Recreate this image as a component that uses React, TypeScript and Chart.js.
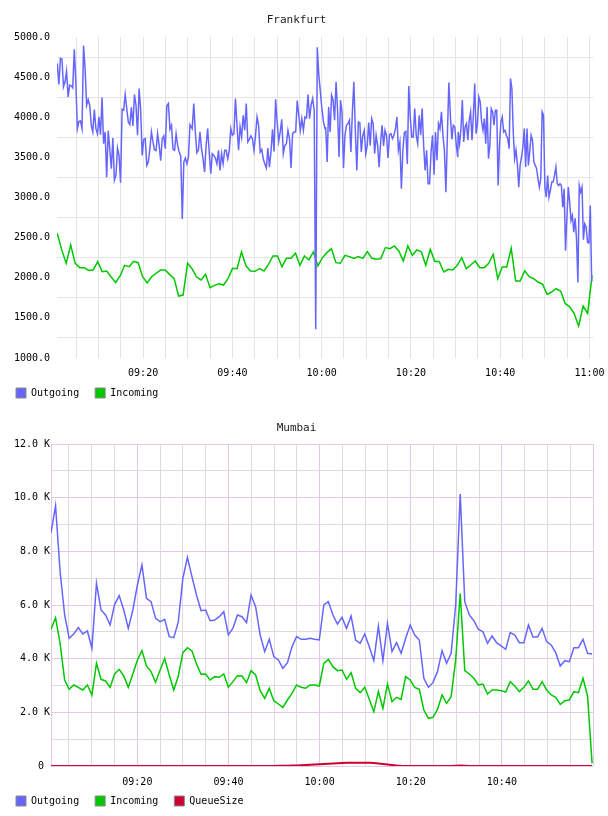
import React, { useEffect, useRef } from 'react';
import { Chart, registerables } from 'chart.js';
Chart.register(...registerables);

const FONT = "'DejaVu Sans Mono', monospace";

// ---------- Frankfurt (minutes after 09:00) ----------
// Outgoing is sampled densely; read in four consecutive stretches.
const frankfurtOutgoingA = [
  4671, 4408, 4733, 4725, 4379, 4442, 4575, 4254, 4400, 4392,
  4367, 4846, 4442, 3858, 3950, 3954, 3858, 4892, 4608, 4150,
  4221, 4150, 3900, 3817, 4096, 3858, 3796, 4004, 3783, 4246,
  3671, 3817, 3254, 3833, 3608, 3358, 3742, 3213, 3275, 3617,
  3525, 3183, 4100, 4088, 4283, 4108, 3942, 3908, 4125, 3892,
  4283, 4150, 3775, 4358, 4108, 3525, 3725, 3733, 3400, 3442,
  3608, 3817, 3692, 3592, 3583, 3796, 3650, 3458, 3733, 3767,
  3608, 4142, 4171, 3850, 3900, 3600, 3588, 3792, 3650, 3567,
  3517, 2733, 3442, 3492, 3421, 3504, 3908,
];
const frankfurtOutgoingB = [
  3858, 4171, 3817, 3558, 3588, 3817, 3608, 3483, 3317, 3650,
  3858, 3567, 3296, 3546, 3525, 3492, 3421, 3588, 3338, 3546,
  3421, 3588, 3588, 3483, 3588, 3858, 3775, 3796, 4233, 3900,
  3588, 3879, 3754, 4025, 3838, 4171, 3692, 3725, 3767, 3733,
  3588, 3775, 4004, 3900, 3567, 3600, 3483, 3421, 3367, 3617,
  3379, 3567, 3850, 3575, 4225, 3942, 3700, 3817, 3975, 3546,
  3650, 3671, 3838, 3733, 3367, 3796, 3817, 3817, 4208, 4025,
  3838, 3983, 3838, 4004, 3992, 4283, 3983, 4150, 4233, 4088,
  1358, 4871, 4525, 4317, 4108, 3942, 3858,
];
const frankfurtOutgoingC = [
  3879, 3442, 4129, 3817, 4275, 4213, 3963, 4442, 4088, 3504,
  4213, 4067, 3367, 3775, 3900, 3921, 3963, 3567, 4067, 4442,
  3817, 3338, 3942, 3933, 3567, 3775, 3838, 3546, 3650, 3933,
  3650, 3983, 3921, 3546, 3775, 3650, 3379, 3683, 3900, 3642,
  3838, 3775, 3492, 3783, 3796, 3733, 3775, 3858, 4004, 3588,
  3692, 3108, 3588, 3808, 3825, 3417, 4388, 4004, 3754, 3754,
  4108, 3775, 3671, 4025, 3775, 4108, 3650, 3338, 3588, 3171,
  3171, 3567, 3775, 3283, 3817, 3463, 3921, 3858, 4067, 3775,
  3588, 3067, 3775, 4433, 4025, 3725, 3900, 3879, 3650, 3504,
];
const frankfurtOutgoingD = [
  3817, 3671, 3858, 4213, 3692, 3879, 3921, 3713, 3963, 4067,
  3713, 4025, 4421, 3796, 3921, 4254, 4192, 3942, 3838, 3983,
  3671, 4129, 3483, 3650, 4108, 4067, 3900, 4088, 4088, 3150,
  3650, 3942, 4004, 3817, 3838, 3775, 3733, 3608, 4483, 4358,
  3817, 3483, 3588, 3421, 3129, 3400, 3504, 3629, 3858, 3379,
  3858, 3400, 3575, 3775, 3713, 3442, 3400, 3358, 3233, 3129,
  3233, 4067, 4025, 3129, 3004, 3275, 3004, 3088, 3192, 3192,
  3275, 3379, 3171, 3150, 3171, 3150, 2879, 3108, 2338, 2754,
  3129, 2942, 2713, 2775, 2567, 2742, 2483, 1942, 3150, 3067,
  3129, 2475, 2671, 2629, 2442, 2433, 2900, 1950,
];
// first and last sample time (minutes after 09:00) of each stretch
const frankfurtOutgoingSpans = [
  [0.77, 30.5],
  [31.0, 60.75],
  [60.9, 90.5],
  [90.6, 120.5],
];

const frankfurtIncoming = [
  2555, 2347, 2180, 2409, 2180, 2126, 2126, 2092, 2097, 2201,
  2076, 2084, 2009, 1942, 2022, 2155, 2138, 2205, 2188, 2013,
  1934, 2013, 2055, 2097, 2097, 2042, 1992, 1772, 1784, 2180,
  2113, 2009, 1972, 2042, 1876, 1905, 1926, 1909, 1988, 2117,
  2113, 2322, 2147, 2084, 2080, 2113, 2084, 2167, 2272, 2272,
  2138, 2242, 2242, 2305, 2155,
  2272, 2222, 2322, 2147, 2251, 2313, 2363, 2188, 2180, 2280,
  2263, 2242, 2263, 2242, 2326, 2242, 2230, 2238, 2376, 2363,
  2397, 2334, 2209, 2397, 2280, 2347, 2322, 2155, 2355, 2201,
  2201, 2072, 2105, 2097, 2155, 2251, 2113, 2159, 2209, 2126,
  2126, 2180, 2293, 1988, 2134, 2134, 2367, 1959, 1959, 2088,
  2013, 1988, 1947, 1917, 1792, 1822, 1863, 1834, 1680, 1638,
  1555, 1397, 1647, 1555, 2030,
];
const frankfurtInStart = 0.75;
const frankfurtInEnd = 120.6;
const frankfurtAxisMin = 0.7;
const frankfurtAxisMax = 120.8;

// ---------- Mumbai ----------
const mumbaiOutgoing = [
  8696, 9703, 7250, 5628, 4758, 4920, 5156, 4920, 5032, 4386,
  6808, 5814, 5628, 5255, 6025, 6348, 5814, 5130, 5814, 6746,
  7491, 6249, 6125, 5503, 5379, 5466, 4820, 4783, 5379, 6994,
  7777, 7056, 6373, 5790, 5814, 5416, 5441, 5565, 5752, 4883,
  5130, 5628, 5565, 5342, 6373, 5938, 4883, 4261, 4721, 4075,
  3951, 3640, 3851, 4447, 4820, 4721,
  4721, 4758, 4721, 4696, 6000, 6124, 5628, 5292, 5540, 5130,
  5590, 4696, 4572, 4920, 4447, 3926, 5205, 3926, 5317, 4261,
  4597, 4199, 4758, 5255, 4883, 4696, 3267, 2932, 3106, 3516,
  4299, 3826, 4199, 6000, 10137, 6124, 5628, 5416, 5093, 5006,
  4572, 4845, 4597, 4473, 4348, 4970, 4883, 4597, 4597, 5255,
  4808, 4808, 5130, 4634, 4510, 4224, 3727, 3926, 3888, 4410,
  4410, 4721, 4199, 4174,
];

const mumbaiIncoming = [
  5094, 5528, 4572, 3205, 2858, 3019, 2932, 2833, 3019, 2646,
  3826, 3230, 3168, 2932, 3429, 3603, 3355, 2932, 3429, 3951,
  4299, 3727, 3516, 3118, 3578, 4013, 3392, 2833, 3355, 4224,
  4410, 4286, 3802, 3417, 3429, 3205, 3330, 3305, 3429, 2932,
  3143, 3367, 3355, 3106, 3553, 3392, 2808, 2522, 2895, 2435,
  2311, 2187, 2460, 2708, 3019, 2932,
  2895, 3019, 3019, 2981, 3826, 3975, 3702, 3553, 3578, 3230,
  3478, 2895, 2733, 2932, 2485, 2025, 2771, 2150, 3056, 2398,
  2560, 2485, 3330, 3205, 2932, 2858, 2087, 1776, 1814, 2112,
  2646, 2336, 2584, 3951, 6430, 3553, 3429, 3268, 3019, 3056,
  2684, 2833, 2833, 2808, 2758, 3143, 2981, 2771, 2932, 3168,
  2858, 2858, 3143, 2833, 2646, 2560, 2298, 2435, 2460, 2771,
  2733, 3268, 2609, 99,
];

const mumbaiQueue = [
  0, 0, 0, 0, 0, 0, 0, 0, 0, 0,
  0, 0, 0, 0, 0, 0, 0, 0, 0, 0,
  0, 0, 0, 0, 0, 0, 0, 0, 0, 0,
  0, 0, 0, 0, 0, 0, 0, 0, 0, 0,
  0, 0, 0, 0, 0, 0, 0, 0, 0, 0,
  5, 8, 12, 18, 22, 28, 35, 45, 55, 65,
  75, 85, 95, 105, 112, 118, 122, 125, 125, 124,
  120, 110, 95, 75, 55, 35, 18, 6, 0, 0,
  0, 0, 0, 0, 0, 0, 0, 0, 0, 10,
  18, 8, 0, 0, 0, 0, 0, 0, 0, 0,
  0, 0, 0, 0, 0, 0, 0, 0, 0, 0,
  0, 0, 0, 0, 0, 0, 0, 0, 0, 0,
];

const mumbaiStart = 1.05;
const mumbaiEnd = 119.8;
const mumbaiAxisMin = 1.05;
const mumbaiAxisMax = 120;

const COLORS = { out: '#6666ff', inc: '#00c800', queue: '#cc0033' };

function fmtTime(t: number) {
  const h = 9 + Math.floor(t / 60);
  const m = Math.round(t % 60);
  return String(h).padStart(2, '0') + ':' + String(m).padStart(2, '0');
}

function series(values: number[], start: number, end: number) {
  const step = (end - start) / (values.length - 1);
  return values.map((v, i) => ({ x: start + i * step, y: v }));
}

const isMult = (v: number, k: number) => Math.abs(v / k - Math.round(v / k)) < 1e-6;

function legendLabels(chart: any) {
  return chart.data.datasets.map((ds: any, i: number) => ({
    text: ds.label,
    fillStyle: ds.borderColor,
    strokeStyle: '#8a8a8a',
    lineWidth: 1,
    hidden: false,
    datasetIndex: i,
    fontColor: '#000',
  }));
}

function lineDs(label: string, data: any[], color: string, width = 1.5) {
  return {
    label,
    data,
    borderColor: color,
    backgroundColor: color,
    borderWidth: width,
    pointRadius: 0,
    tension: 0,
    fill: false,
  };
}

function baseOptions(p: any) {
  return {
    animation: false,
    responsive: true,
    maintainAspectRatio: false,
    layout: { padding: { left: 0, right: 15, top: 0, bottom: 0 } },
    plugins: {
      title: {
        display: true,
        text: p.title,
        color: '#222',
        font: { family: FONT, size: 11, weight: 'normal' },
        padding: { top: 14, bottom: p.titleBottom },
      },
      legend: {
        position: 'bottom',
        align: 'start',
        labels: {
          boxWidth: 10,
          boxHeight: 10,
          padding: 16,
          color: '#000',
          font: { family: FONT, size: 10 },
          generateLabels: legendLabels,
        },
      },
      tooltip: { enabled: false },
    },
    scales: {
      x: {
        type: 'linear',
        min: p.xMin,
        max: p.xMax,
        afterBuildTicks: (axis: any) => {
          axis.ticks = axis.ticks.filter((t: any) => isMult(t.value, 5));
        },
        afterFit: (s: any) => {
          s.height = 14;
          s.paddingLeft = 0;
          s.paddingRight = 0;
          // let the time labels hang below the thin axis box
          s._computeLabelArea = () => undefined;
        },
        ticks: {
          stepSize: 5,
          includeBounds: false,
          autoSkip: false,
          maxRotation: 0,
          minRotation: 0,
          padding: p.xPad,
          color: '#000',
          font: { family: FONT, size: 10 },
          callback: (v: number) => (isMult(v, 20) && v < p.xLabelLimit ? fmtTime(v) : ''),
        },
        grid: { drawTicks: false, lineWidth: 1, color: p.xGridColor },
        border: { display: false },
      },
      y: {
        min: p.yMin,
        max: p.yMax,
        afterFit: (s: any) => { s.width = p.yWidth; },
        ticks: {
          stepSize: p.yStep,
          autoSkip: false,
          padding: p.yPad,
          color: '#000',
          font: { family: FONT, size: 10 },
          callback: p.yLabel,
        },
        grid: { drawTicks: false, lineWidth: 1, color: p.yGridColor },
        border: p.yBorder,
      },
    },
  };
}

const frankfurtConfig = () => {
  const parts = [frankfurtOutgoingA, frankfurtOutgoingB, frankfurtOutgoingC, frankfurtOutgoingD];
  const outgoing = parts.flatMap((vals, k) =>
    series(vals, frankfurtOutgoingSpans[k][0], frankfurtOutgoingSpans[k][1]));
  return {
    type: 'line',
    data: {
      datasets: [
        lineDs('Outgoing', outgoing, COLORS.out),
        lineDs('Incoming', series(frankfurtIncoming, frankfurtInStart, frankfurtInEnd), COLORS.inc),
      ],
    },
    options: baseOptions({
      title: 'Frankfurt',
      titleBottom: 9.8,
      xMin: frankfurtAxisMin,
      xMax: frankfurtAxisMax,
      xPad: 9,
      xLabelLimit: 1000,
      xGridColor: '#e4e4e4',
      yMin: 1000,
      yMax: 5000,
      yStep: 250,
      yWidth: 57,
      yPad: 7,
      yLabel: (v: number) => (isMult(v, 500) ? v.toFixed(1) : ''),
      yGridColor: (ctx: any) => (ctx.tick && isMult(ctx.tick.value, 500) ? 'rgba(0,0,0,0)' : '#e4e4e4'),
      yBorder: { display: false },
    }),
  };
};

const MAJOR = '#e4c8ea';
const MINOR = '#e0dae0';

const mumbaiConfig = () => ({
  type: 'line',
  data: {
    datasets: [
      lineDs('Outgoing', series(mumbaiOutgoing, mumbaiStart, mumbaiEnd), COLORS.out),
      lineDs('Incoming', series(mumbaiIncoming, mumbaiStart, mumbaiEnd), COLORS.inc),
      lineDs('QueueSize', series(mumbaiQueue, mumbaiStart, mumbaiEnd), COLORS.queue, 2),
    ],
  },
  options: baseOptions({
    title: 'Mumbai',
    titleBottom: 8.8,
    xMin: mumbaiAxisMin,
    xMax: mumbaiAxisMax,
    xPad: 10,
    xLabelLimit: 119,
    xGridColor: (ctx: any) => (ctx.tick && isMult(ctx.tick.value, 20) ? MAJOR : MINOR),
    yMin: 0,
    yMax: 12000,
    yStep: 1000,
    yWidth: 51,
    yPad: 1,
    yLabel: (v: number) => (v === 0 ? '0 ' : isMult(v, 2000) ? (v / 1000).toFixed(1) + ' K' : ''),
    yGridColor: (ctx: any) => (ctx.tick && isMult(ctx.tick.value, 2000) ? MAJOR : MINOR),
    yBorder: { display: true, color: MAJOR, width: 1 },
  }),
});

function ChartBox({ make, top }: { make: () => any; top: number }) {
  const ref = useRef<HTMLCanvasElement | null>(null);
  useEffect(() => {
    if (!ref.current) return;
    const chart = new Chart(ref.current, make());
    return () => chart.destroy();
  }, []);
  return (
    <div style={{ position: 'absolute', left: 0, top, width: 608, height: 408 }}>
      <canvas ref={ref} />
    </div>
  );
}

export default function App() {
  return (
    <div style={{ position: 'absolute', left: 0, top: 0, width: 608, height: 816, overflow: 'hidden', background: '#fff' }}>
      <ChartBox make={frankfurtConfig} top={0} />
      <ChartBox make={mumbaiConfig} top={408} />
    </div>
  );
}
